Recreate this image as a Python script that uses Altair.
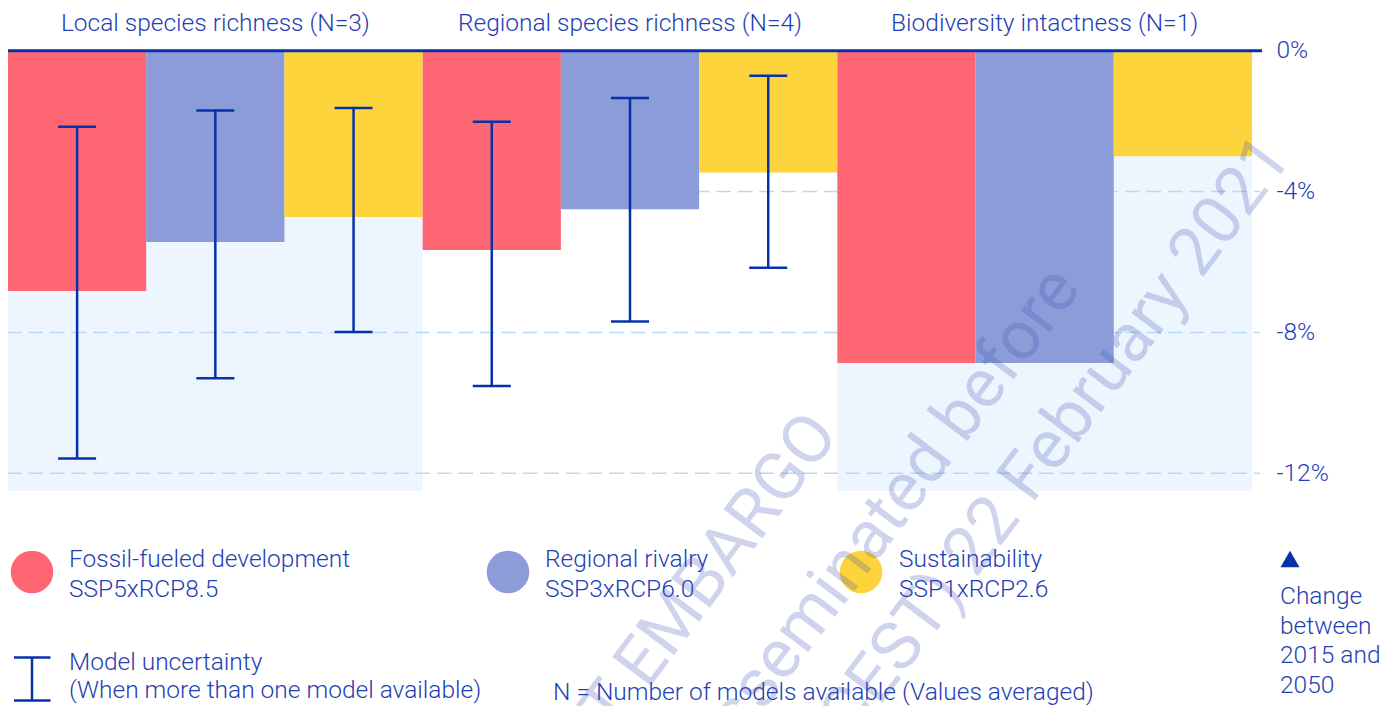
import altair as alt
import pandas as pd

# ---------------- data ----------------
groups = ["Local species richness (N=3)", "Regional species richness (N=4)", "Biodiversity intactness (N=1)"]
scenarios = ["Fossil-fueled development", "Regional rivalry", "Sustainability"]
scenario_codes = ["SSP5xRCP8.5", "SSP3xRCP6.0", "SSP1xRCP2.6"]
colors = ["#FF6673", "#8B9CD8", "#FDD43C"]

local_values = [-6.82, -5.43, -4.72]
regional_values = [-5.66, -4.50, -3.46]
intactness_values = [-8.87, -8.87, -3.00]

local_err_low = [-11.58, -9.30, -7.99]
local_err_high = [-2.16, -1.70, -1.63]
regional_err_low = [-9.52, -7.69, -6.16]
regional_err_high = [-2.02, -1.34, -0.71]

shaded_groups = [groups[0], groups[2]]
shade_bottom = -12.5
grid_values = [-4, -8, -12]
axis_values = [0, -4, -8, -12]

watermark_lines = ["UNDER STRICT EMBARGO", "Not to be disseminated before", "10:00 (CEST) 22 February 2021"]

# ---------------- styles ----------------
TEXT = "#1F3FB5"
LINE = "#0532A8"
FONT = "Roboto"
FS = 24.5
FW = 300
W, H = 1244, 698

values_by_group = [local_values, regional_values, intactness_values]
low_by_group = [local_err_low, regional_err_low, None]
high_by_group = [local_err_high, regional_err_high, None]

rows, err_rows = [], []
for gi, g in enumerate(groups):
    for si, s in enumerate(scenarios):
        slot = gi * len(scenarios) + si
        rows.append({"group": g, "scenario": s, "x0": slot, "x1": slot + 1,
                     "value": values_by_group[gi][si], "zero": 0})
        if low_by_group[gi] is not None:
            c = slot + 0.5
            err_rows.append({"xc": c, "cl": c - 0.1375, "cr": c + 0.1375,
                             "low": low_by_group[gi][si], "high": high_by_group[gi][si]})
bars_df = pd.DataFrame(rows)
err_df = pd.DataFrame(err_rows)

bg_df = pd.DataFrame([{"x0": groups.index(g) * 3, "x1": groups.index(g) * 3 + 3,
                       "top": 0, "bottom": shade_bottom} for g in shaded_groups])
grid_df = pd.DataFrame({"top": grid_values})
zero_df = pd.DataFrame({"top": [0]})
title_df = pd.DataFrame({"group": groups, "xc": [i * 3 + 1.5 for i in range(len(groups))]})

xs = alt.Scale(domain=[0, 9], nice=False, zero=False)
ys = alt.Scale(domain=[-18.606, 1.212], nice=False, zero=False)

yaxis = alt.Axis(values=axis_values, labelExpr="datum.value + '%'", orient="right",
                 grid=False, ticks=False, domain=False, labelPadding=24, title=None,
                 labelFont=FONT, labelFontSize=FS, labelFontWeight=FW, labelColor=TEXT)


def X(f):
    return alt.X(f, type="quantitative", scale=xs, axis=None)


def Y(f):
    return alt.Y(f, type="quantitative", scale=ys, axis=yaxis)


bg = alt.Chart(bg_df).mark_rect(color="#EDF6FE").encode(
    x=X("x0"), x2="x1", y=Y("top"), y2="bottom")

grid = alt.Chart(grid_df).mark_rule(color="#B9D9F9", strokeWidth=1.5, strokeDash=[14.5, 7]).encode(
    y=Y("top"), x=alt.value(-1), x2=alt.value(1252))

bars = alt.Chart(bars_df).mark_rect().encode(
    x=X("x0"), x2="x1", y=Y("value"), y2="zero",
    color=alt.Color("scenario:N", scale=alt.Scale(domain=scenarios, range=colors), legend=None))

zero = alt.Chart(zero_df).mark_rule(color=LINE, strokeWidth=3).encode(
    y=Y("top"), x=alt.value(-1), x2=alt.value(1254))

err_v = alt.Chart(err_df).mark_rule(color=LINE, strokeWidth=2.5).encode(
    x=X("xc"), y=Y("low"), y2="high")
err_lo = alt.Chart(err_df).mark_rule(color=LINE, strokeWidth=2.5).encode(
    x=X("cl"), x2="cr", y=Y("low"))
err_hi = alt.Chart(err_df).mark_rule(color=LINE, strokeWidth=2.5).encode(
    x=X("cl"), x2="cr", y=Y("high"))

titles = alt.Chart(title_df).mark_text(font=FONT, fontSize=FS, fontWeight=FW, color=TEXT,
                                       align="center", baseline="alphabetic").encode(
    x=X("xc"), y=alt.value(22.7), text="group:N")

# ---------------- legend ----------------
leg_df = pd.DataFrame({"scenario": scenarios,
                       "label": [s + "\n" + c for s, c in zip(scenarios, scenario_codes)]})
legend_pos = [(24, 61), (500, 537), (853, 891)]
legend_layers = []
for i, s in enumerate(scenarios):
    d = leg_df[leg_df.scenario == s]
    cx, tx = legend_pos[i]
    legend_layers.append(alt.Chart(d).mark_circle(size=1810, opacity=1).encode(
        x=alt.value(cx), y=alt.value(564),
        color=alt.Color("scenario:N", scale=alt.Scale(domain=scenarios, range=colors), legend=None)))
    legend_layers.append(alt.Chart(d).mark_text(font=FONT, fontSize=FS, fontWeight=FW, color=TEXT,
                                                align="left", baseline="alphabetic", lineBreak="\n",
                                                lineHeight=30).encode(
        x=alt.value(tx), y=alt.value(559), text="label:N"))

one = pd.DataFrame({"t": ["Model uncertainty\n(When more than one model available)"]})
unc_text = alt.Chart(one).mark_text(font=FONT, fontSize=FS, fontWeight=FW, color=TEXT,
                                    align="left", baseline="alphabetic", lineBreak="\n",
                                    lineHeight=27.5).encode(
    x=alt.value(61), y=alt.value(662), text="t:N")
icon_v = alt.Chart(one).mark_rule(color=LINE, strokeWidth=2.5).encode(
    x=alt.value(24), y=alt.value(649.5), y2=alt.value(692.5))
icon_t = alt.Chart(one).mark_rule(color=LINE, strokeWidth=2.5).encode(
    x=alt.value(6), x2=alt.value(42.5), y=alt.value(649.5))
icon_b = alt.Chart(one).mark_rule(color=LINE, strokeWidth=2.5).encode(
    x=alt.value(6), x2=alt.value(42.5), y=alt.value(692.5))

n_df = pd.DataFrame({"t": ["N = Number of models available (Values averaged)"]})
n_text = alt.Chart(n_df).mark_text(font=FONT, fontSize=FS, fontWeight=FW, color=TEXT,
                                   align="left", baseline="alphabetic").encode(
    x=alt.value(545), y=alt.value(692), text="t:N")

ch_df = pd.DataFrame({"t": ["Change\nbetween\n2015 and\n2050"]})
tri = alt.Chart(ch_df).mark_point(shape="triangle-up", filled=True, size=360, color=LINE, opacity=1).encode(
    x=alt.value(1282), y=alt.value(551))
ch_text = alt.Chart(ch_df).mark_text(font=FONT, fontSize=FS, fontWeight=FW, color=TEXT,
                                     align="left", baseline="alphabetic", lineBreak="\n",
                                     lineHeight=29.5).encode(
    x=alt.value(1272), y=alt.value(596), text="t:N")

# ---------------- watermark ----------------
wm_pos = [(832, 427), (1074, 281), (1285, 150)]
wm_layers = []
for line, (wx, wy) in zip(watermark_lines, wm_pos):
    wm_layers.append(alt.Chart(pd.DataFrame({"t": [line]})).mark_text(
        font=FONT, fontSize=68, fontWeight=400, color="#3C50B4", opacity=0.24,
        angle=307, align="right", baseline="alphabetic").encode(
        x=alt.value(wx), y=alt.value(wy), text="t:N"))

chart = alt.layer(
    bg, grid, bars, zero, err_v, err_lo, err_hi, titles,
    *legend_layers, unc_text, icon_v, icon_t, icon_b, n_text, tri, ch_text,
    *wm_layers
).properties(
    width=W, height=H,
    autosize=alt.AutoSizeParams(type="none"),
    padding={"left": 0, "top": 0, "right": 134, "bottom": 0},
    background="white",
).configure_view(stroke=None)

chart.save("out.html", embed_options={"renderer": "svg", "actions": False})
